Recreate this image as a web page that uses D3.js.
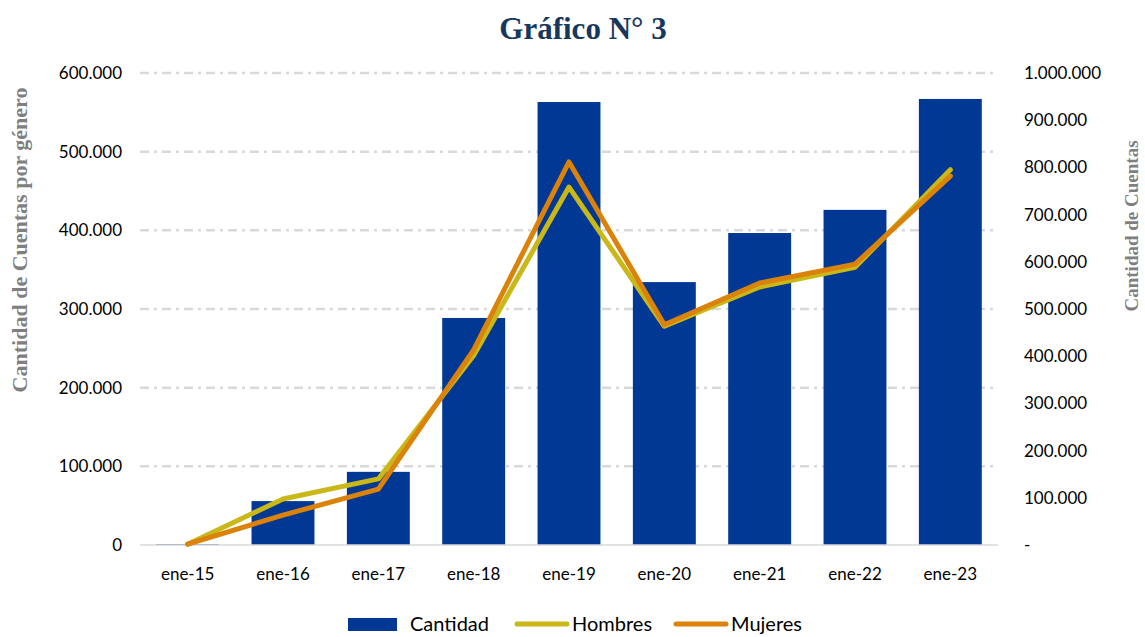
<!DOCTYPE html>
<html>
<head>
<meta charset="utf-8">
<script src="https://cdn.jsdelivr.net/npm/d3@7"></script>
<style>
  body { margin: 0; background: #fff; }
  .tick text { font-family: Lato, "Open Sans", sans-serif; font-size: 17px; fill: #000; }
  .title { font-family: "Liberation Serif", "DejaVu Serif", serif; font-weight: bold; }
</style>
</head>
<body>
<div id="chart"></div>
<script>
// chart values
var categories = ["ene-15", "ene-16", "ene-17", "ene-18", "ene-19", "ene-20", "ene-21", "ene-22", "ene-23"];
var cantidad = [1500, 93000, 155000, 481000, 938500, 557000, 661000, 710000, 945000];
var hombres  = [1000, 58500, 84000, 241000, 455000, 278000, 328000, 353000, 477000];
var mujeres  = [1000, 38000, 71000, 248000, 487000, 280000, 333000, 357000, 469000];
var leftTicks = [0, 100000, 200000, 300000, 400000, 500000, 600000];
var rightTicks = [0, 100000, 200000, 300000, 400000, 500000, 600000, 700000, 800000, 900000, 1000000];

var W = 1145, H = 637;
var margin = {top: 73, right: 147, bottom: 92, left: 140};
var width = W - margin.left - margin.right,
    height = H - margin.top - margin.bottom;

var loc = d3.formatLocale({decimal: ",", thousands: ".", grouping: [3], currency: ["", ""]});
var fmt = loc.format(",.0f");

var svg = d3.select("#chart").append("svg")
    .attr("width", W).attr("height", H);

var g = svg.append("g")
    .attr("transform", "translate(" + margin.left + "," + margin.top + ")");

var x = d3.scaleBand().domain(categories).range([0, width]).paddingInner(0.34).paddingOuter(0.17);
var xc = function(d) { return x(d) + x.bandwidth() / 2; };
var yL = d3.scaleLinear().domain([0, 600000]).range([height, 0]);
var yR = d3.scaleLinear().domain([0, 1000000]).range([height, 0]);

// gridlines
g.selectAll(".grid").data(leftTicks.filter(function(d) { return d > 0; })).enter()
  .append("line")
    .attr("x1", 0).attr("x2", width)
    .attr("y1", function(d) { return yL(d); }).attr("y2", function(d) { return yL(d); })
    .attr("stroke", "#d9d9d9").attr("stroke-width", 2.5)
    .attr("stroke-dasharray", "9,5,3,5");

// bars
g.selectAll(".bar").data(cantidad).enter()
  .append("rect")
    .attr("x", function(d, i) { return x(categories[i]); })
    .attr("width", x.bandwidth())
    .attr("y", function(d) { return yR(d); })
    .attr("height", function(d) { return height - yR(d); })
    .attr("fill", "#003893");

// baseline
g.append("line")
  .attr("x1", 0).attr("x2", width).attr("y1", height).attr("y2", height)
  .attr("stroke", "#d9d9d9").attr("stroke-width", 1.5);

// lines
var line = d3.line()
  .x(function(d, i) { return xc(categories[i]); })
  .y(function(d) { return yL(d); });

g.append("path").datum(hombres)
  .attr("d", line).attr("fill", "none")
  .attr("stroke", "#c9b817").attr("stroke-width", 5)
  .attr("stroke-linejoin", "round").attr("stroke-linecap", "round");

g.append("path").datum(mujeres)
  .attr("d", line).attr("fill", "none")
  .attr("stroke", "#da820a").attr("stroke-width", 5)
  .attr("stroke-linejoin", "round").attr("stroke-linecap", "round");

// axes
var xAxis = d3.axisBottom(x).tickSize(0).tickPadding(23);
g.append("g").attr("transform", "translate(0," + height + ")").call(xAxis)
  .call(function(s) { s.select(".domain").remove(); });

var yAxisL = d3.axisLeft(yL).tickValues(leftTicks).tickFormat(fmt).tickSize(0).tickPadding(18);
g.append("g").call(yAxisL).call(function(s) { s.select(".domain").remove(); });

var yAxisR = d3.axisRight(yR).tickValues(rightTicks)
  .tickFormat(function(d) { return d === 0 ? "-" : fmt(d); })
  .tickSize(0).tickPadding(26);
g.append("g").attr("transform", "translate(" + width + ",0)").call(yAxisR)
  .call(function(s) { s.select(".domain").remove(); });

// titles
svg.append("text").attr("class", "title")
  .attr("x", 583).attr("y", 39).attr("text-anchor", "middle")
  .attr("font-size", 31).attr("fill", "#17375e")
  .text("Gráfico N° 3");

svg.append("text").attr("class", "title")
  .attr("transform", "translate(27,240) rotate(-90)")
  .attr("text-anchor", "middle").attr("font-size", 22).attr("fill", "#7f7f7f")
  .text("Cantidad de Cuentas por género");

svg.append("text").attr("class", "title")
  .attr("transform", "translate(1138,226) rotate(-90)")
  .attr("text-anchor", "middle").attr("font-size", 19).attr("fill", "#7f7f7f")
  .text("Cantidad de Cuentas");

// legend
var legend = svg.append("g").attr("transform", "translate(0,624)");
legend.append("rect").attr("x", 348).attr("y", -6).attr("width", 49).attr("height", 13).attr("fill", "#003893");
legend.append("text").attr("x", 410).attr("y", 7).text("Cantidad");
legend.append("line").attr("x1", 517).attr("x2", 567).attr("y1", 0).attr("y2", 0)
  .attr("stroke", "#c9b817").attr("stroke-width", 5).attr("stroke-linecap", "round");
legend.append("text").attr("x", 572).attr("y", 7).text("Hombres");
legend.append("line").attr("x1", 676).attr("x2", 726).attr("y1", 0).attr("y2", 0)
  .attr("stroke", "#da820a").attr("stroke-width", 5).attr("stroke-linecap", "round");
legend.append("text").attr("x", 731).attr("y", 7).text("Mujeres");
legend.selectAll("text")
  .attr("font-family", "'Liberation Sans Narrow', Lato, sans-serif")
  .attr("font-size", 20).attr("fill", "#000");
</script>
</body>
</html>
